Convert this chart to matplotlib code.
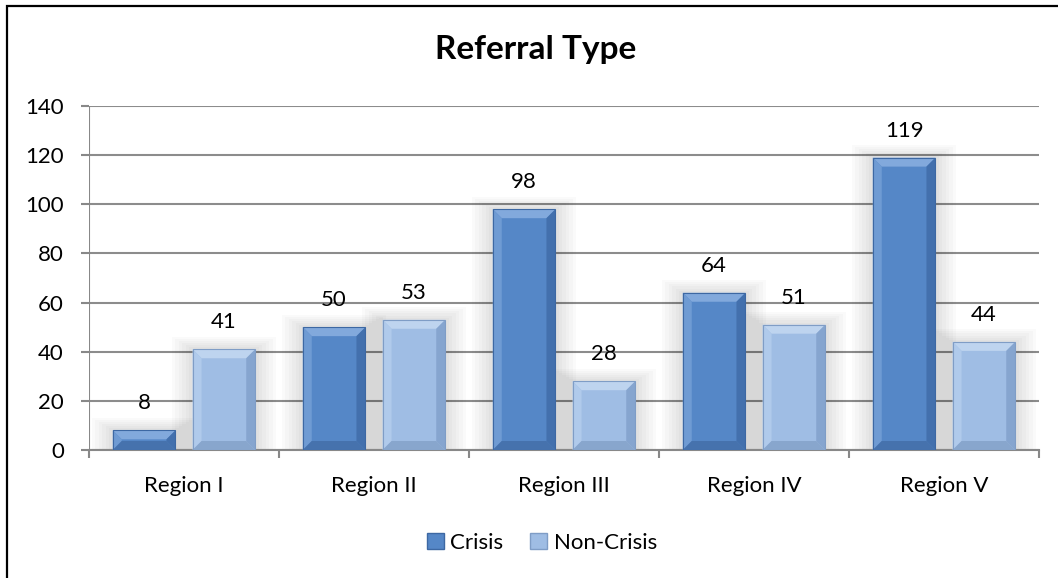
import matplotlib
matplotlib.use("Agg")
import matplotlib.pyplot as plt
from matplotlib.patches import Rectangle, Polygon
import numpy as np

categories = ["Region I", "Region II", "Region III", "Region IV", "Region V"]
crisis = [8, 50, 98, 64, 119]
non_crisis = [41, 53, 28, 51, 44]
series_names = ["Crisis", "Non-Crisis"]
y_ticks = [0, 20, 40, 60, 80, 100, 120, 140]

plt.rcParams['font.family'] = ['Lato', 'DejaVu Sans']

W, H = 1058, 578
fig = plt.figure(figsize=(W / 100, H / 100), dpi=100)

# outer chart border (only top and left visible in reference)
fig.add_artist(Rectangle((7 / W, -0.05), 1.1, 1 - 6 / H + 0.05, transform=fig.transFigure,
                         fill=False, edgecolor='black', linewidth=1.6))

ax = fig.add_axes([89 / W, 1 - 450 / H, (1039 - 89) / W, (450 - 106) / H])
ax.set_xlim(0, len(categories))
ax.set_ylim(0, 140)

for s in ['top', 'right', 'left']:
    ax.spines[s].set_visible(False)
ax.spines['bottom'].set_color('#888888')
ax.spines['bottom'].set_linewidth(1.5)

ax.set_yticks(y_ticks)
ax.set_yticklabels([str(v) for v in y_ticks], fontsize=16)
ax.yaxis.grid(True, color='#8c8c8c', linewidth=1.5)
ax.set_axisbelow(True)
ax.tick_params(axis='y', length=6, width=1.5, color='#888888', pad=12)
ax.axvline(0, color='#888888', linewidth=1.5, zorder=1.5)

ax.set_xticks(np.arange(len(categories) + 1), minor=False)
ax.set_xticklabels([])
ax.set_xticks(np.arange(len(categories)) + 0.5, minor=True)
ax.set_xticklabels(categories, minor=True, fontsize=16)
ax.tick_params(axis='x', which='major', length=6, width=1.5, color='#888888')
ax.tick_params(axis='x', which='minor', length=0, pad=19)

bar_w = 0.33
offset = 0.21
ppx = len(categories) / (1039 - 89)   # data units per pixel, x
ppy = 140 / (450 - 106)               # data units per pixel, y
bx, by = 9 * ppx, 9 * ppy

styles = {
    "Crisis": dict(face='#5587c7', top='#82a9dc', left='#6f9bd3', right='#4370ad', bottom='#4672ad', edge='#3d68a3'),
    "Non-Crisis": dict(face='#9fbde4', top='#bed4ef', left='#b0caeb', right='#86a5cf', bottom='#88a6cd', edge='#7f9dc6'),
}


def draw_shadow(x0, x1, h):
    for k in range(6):
        e = (k + 1) * 3.5
        ax.add_patch(Rectangle((x0 - e * ppx, 0), (x1 - x0) + 2 * e * ppx, h + e * ppy * 0.6,
                               facecolor='black', alpha=0.018, edgecolor='none', zorder=1.2))


def draw_bar(x0, x1, h, st):
    b_x = min(bx, (x1 - x0) / 2)
    b_y = min(by, h / 2)
    ax.add_patch(Rectangle((x0, 0), x1 - x0, h, facecolor=st['face'], edgecolor='none', zorder=3))
    ax.add_patch(Polygon([(x0, h), (x1, h), (x1 - b_x, h - b_y), (x0 + b_x, h - b_y)],
                         closed=True, facecolor=st['top'], edgecolor='none', zorder=3.1))
    ax.add_patch(Polygon([(x0, 0), (x0, h), (x0 + b_x, h - b_y), (x0 + b_x, b_y)],
                         closed=True, facecolor=st['left'], edgecolor='none', zorder=3.1))
    ax.add_patch(Polygon([(x1, 0), (x1, h), (x1 - b_x, h - b_y), (x1 - b_x, b_y)],
                         closed=True, facecolor=st['right'], edgecolor='none', zorder=3.1))
    ax.add_patch(Polygon([(x0, 0), (x1, 0), (x1 - b_x, b_y), (x0 + b_x, b_y)],
                         closed=True, facecolor=st['bottom'], edgecolor='none', zorder=3.1))
    ax.add_patch(Rectangle((x0, 0), x1 - x0, h, facecolor='none', edgecolor=st['edge'],
                           linewidth=0.8, zorder=3.2))


for name, vals, sign in [("Crisis", crisis, -1), ("Non-Crisis", non_crisis, 1)]:
    for i, v in enumerate(vals):
        c = i + 0.5 + sign * offset
        x0, x1 = c - bar_w / 2, c + bar_w / 2
        draw_shadow(x0, x1, v)
for name, vals, sign in [("Crisis", crisis, -1), ("Non-Crisis", non_crisis, 1)]:
    for i, v in enumerate(vals):
        c = i + 0.5 + sign * offset
        x0, x1 = c - bar_w / 2, c + bar_w / 2
        draw_bar(x0, x1, v, styles[name])
        ax.annotate(str(v), (c, v), xytext=(0, 19.5), textcoords='offset points',
                    ha='center', va='center', fontsize=16, zorder=5)

fig.text(536 / W, 1 - 50 / H, "Referral Type", ha='center', va='center',
         fontsize=24, fontweight='bold')

handles = [Rectangle((0, 0), 1, 1, facecolor=styles[n]['face'], edgecolor=styles[n]['edge'])
           for n in series_names]
fig.legend(handles, series_names, loc='center', bbox_to_anchor=(542 / W, 1 - 543 / H),
           ncol=2, frameon=False, fontsize=16, handlelength=0.75, handleheight=0.75,
           handletextpad=0.3, columnspacing=1.2)

fig.savefig("out.png", dpi=100)
